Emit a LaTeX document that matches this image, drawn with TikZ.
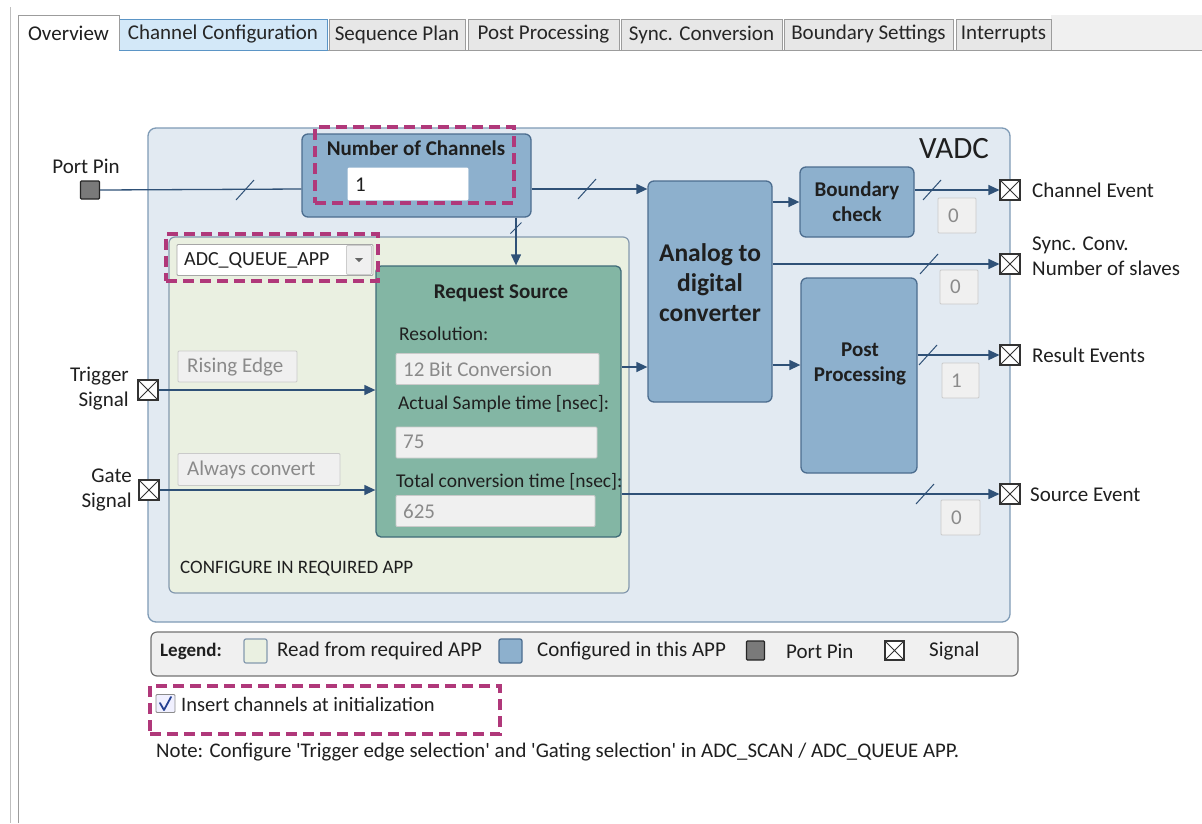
\documentclass[tikz,border=0pt]{standalone}
\usepackage{fontspec}
\setmainfont{Carlito}
\usetikzlibrary{arrows.meta}
\definecolor{vadcbg}{HTML}{E2EAF2}
\definecolor{vadcln}{HTML}{7F9BB6}
\definecolor{cfgbg}{HTML}{8DB0CD}
\definecolor{cfgln}{HTML}{4C6D8F}
\definecolor{appbg}{HTML}{EAF0E1}
\definecolor{appln}{HTML}{8499AE}
\definecolor{srcbg}{HTML}{83B6A4}
\definecolor{srcln}{HTML}{3F6B78}
\definecolor{wirecol}{HTML}{2F5177}
\definecolor{hilite}{HTML}{B0387A}
\definecolor{fieldbg}{HTML}{F0F0F0}
\definecolor{fieldln}{HTML}{CACACA}
\definecolor{fieldtx}{HTML}{8A8A8A}
\definecolor{tabbg}{HTML}{E7E7E7}
\definecolor{tabln}{HTML}{9C9C9C}
\definecolor{tabsel}{HTML}{D3E8F8}
\definecolor{tabselln}{HTML}{5B95C6}
\definecolor{pingray}{HTML}{7A7A7A}
\begin{document}
\begin{tikzpicture}[x=1pt,y=-1pt,
  txt/.style={inner sep=0pt, font=\fontsize{21pt}{25pt}\selectfont, text=black!88},
  small/.style={txt, font=\fontsize{19.5pt}{23pt}\selectfont},
  btitle/.style={txt, font=\fontsize{21pt}{25pt}\selectfont\bfseries},
  tab/.style={draw=tabln, fill=tabbg, inner sep=0pt, font=\fontsize{21pt}{24pt}\selectfont, text=black!85},
  vadcbox/.style={draw=vadcln, fill=vadcbg, line width=1.3pt, rounded corners=8pt, inner sep=0pt},
  appbox/.style={draw=appln, fill=appbg, line width=1.2pt, rounded corners=6pt, inner sep=0pt},
  srcbox/.style={draw=srcln, fill=srcbg, line width=1.3pt, rounded corners=5pt, inner sep=0pt},
  cfgbox/.style={draw=cfgln, fill=cfgbg, line width=1.3pt, rounded corners=6pt, inner sep=0pt},
  field/.style={draw=fieldln, fill=fieldbg, line width=0.9pt, rounded corners=1pt, inner sep=0pt},
  ftxt/.style={inner sep=0pt, anchor=west, text=fieldtx, font=\fontsize{21pt}{24pt}\selectfont},
  sig/.style={draw=black!80, fill=white, line width=1.1pt, minimum size=20pt, inner sep=0pt,
    path picture={\draw[black!80, line width=0.9pt]
      (path picture bounding box.north west) -- (path picture bounding box.south east)
      (path picture bounding box.north east) -- (path picture bounding box.south west);}},
  pin/.style={draw=black!85, fill=pingray, line width=1.1pt, rounded corners=1pt, inner sep=0pt},
  link/.style={draw=wirecol, line width=1.3pt},
  arr/.style={link, -{Triangle[length=11pt,width=10pt]}},
  slash/.style={draw=wirecol, line width=1pt},
  hl/.style={draw=hilite, line width=4pt, dash pattern=on 11pt off 6pt, inner sep=0pt},
]
\useasboundingbox (0,0) rectangle (1202,823);
\fill[white] (0,0) rectangle (1202,823);

% window frame and tab strip
\draw[black!25, line width=1pt] (10,7) -- (10,823);
\fill[fieldbg] (1051,15) rectangle (1202,50);
\draw[tabln, line width=1pt] (119,50) -- (1202,50);
\node[tab, fill=tabsel, draw=tabselln, minimum width=208pt, minimum height=31pt] (tcc) at (223,34.5) {Channel Configuration};
\node[tab, minimum width=136pt, minimum height=31pt] (tsp) at (397,34.5) {Sequence Plan};
\node[tab, minimum width=151pt, minimum height=31pt] (tpp) at (543.5,34.5) {Post Processing};
\node[tab, minimum width=161pt, minimum height=31pt] (tsc) at (701.5,34.5) {Sync. Conversion};
\node[tab, minimum width=169pt, minimum height=31pt] (tbs) at (868.5,34.5) {Boundary Settings};
\node[tab, minimum width=95pt, minimum height=31pt] (tin) at (1003.5,34.5) {Interrupts};
\fill[white] (18,15) rectangle (119,51);
\draw[tabln, line width=1pt] (18,823) -- (18,15) -- (119,15) -- (119,50);
\node[txt, font=\fontsize{21pt}{24pt}\selectfont] (tov) at (68.5,33) {Overview};

% VADC container
\node[vadcbox, minimum width=862pt, minimum height=494pt] (vadc) at (579,375) {};
\node[txt, font=\fontsize{31pt}{33pt}\selectfont] (vadct) at (954,149) {VADC};

% region read from the required APP
\node[appbox, minimum width=460pt, minimum height=356pt] (app) at (399,415) {};
\node[txt, font=\fontsize{19pt}{22pt}\selectfont, anchor=west] (cfgnote) at (180,569) {CONFIGURE IN REQUIRED APP};
\node[field, draw=black!35, fill=white, minimum width=196pt, minimum height=31pt] (dd) at (275,260) {};
\node[ftxt, text=black!88, font=\fontsize{20pt}{24pt}\selectfont] (ddt) at (184,260) {ADC\_QUEUE\_APP};
\node[field, draw=black!20, fill=black!6, minimum width=25pt, minimum height=29pt] (ddb) at (359,260) {};
\fill[black!60] (355,258) -- (363,258) -- (359,262) -- cycle;
\node[field, minimum width=119pt, minimum height=31pt] (fre) at (237.5,366.5) {};
\node[ftxt] at (187,367) {Rising Edge};
\node[field, minimum width=162pt, minimum height=32pt] (fac) at (259,469.5) {};
\node[ftxt] at (187,470) {Always convert};

% request source
\node[srcbox, minimum width=245pt, minimum height=271pt] (rs) at (498.5,401.5) {};
\node[btitle] (rst) at (501,293) {Request Source};
\node[small, anchor=west] (lres) at (399,334) {Resolution:};
\node[field, minimum width=203pt, minimum height=31pt] (fres) at (497.5,369) {};
\node[ftxt] at (403,369) {12 Bit Conversion};
\node[small, anchor=west] (lsmp) at (398,404) {Actual Sample time [nsec]:};
\node[field, minimum width=201pt, minimum height=31pt] (fsmp) at (496.5,442.5) {};
\node[ftxt] at (403,442) {75};
\node[small, anchor=west] (ltot) at (396,482) {Total conversion time [nsec]:};
\node[field, minimum width=199pt, minimum height=31pt] (ftot) at (495.5,511) {};
\node[ftxt] at (403,511) {625};

% number of channels
\node[cfgbox, minimum width=229pt, minimum height=83pt] (noc) at (416.5,175.5) {};
\node[btitle] (noct) at (416,148) {Number of Channels};
\node[field, draw=white, fill=white, minimum width=120pt, minimum height=32pt] (fnoc) at (408,184) {};
\node[ftxt, text=black!88] at (355,185) {1};

% converter blocks
\node[cfgbox, minimum width=124pt, minimum height=221pt] (adc) at (710,291.5) {};
\node[txt, font=\fontsize{25.5pt}{30pt}\selectfont\bfseries, align=center] (adct) at (710,283) {Analog to\\digital\\converter};
\node[cfgbox, minimum width=114pt, minimum height=70pt] (bnd) at (857,202) {};
\node[btitle, align=center] (bndt) at (857,202) {Boundary\\check};
\node[cfgbox, minimum width=116pt, minimum height=195pt] (post) at (859,375.5) {};
\node[btitle, align=center] (postt) at (860,364) {Post\\Processing};

% pins and signals
\node[pin, minimum width=19pt, minimum height=18pt] (pp) at (90,190) {};
\node[txt] (ppl) at (86,166) {Port Pin};
\node[sig] (trig) at (148,390) {};
\node[txt, align=right, anchor=east] (trigl) at (129,389) {Trigger\\Signal};
\node[sig] (gate) at (149,490) {};
\node[txt, align=right, anchor=east] (gatel) at (132,490) {Gate\\Signal};
\node[sig] (chev) at (1010,190) {};
\node[txt, anchor=west] (chevl) at (1032,190) {Channel Event};
\node[sig] (sync) at (1010,264) {};
\node[txt, align=left, anchor=west] (syncl) at (1032,256) {Sync. Conv.\\Number of slaves};
\node[sig] (resev) at (1010,355) {};
\node[txt, anchor=west] (resevl) at (1032,355) {Result Events};
\node[sig] (srcev) at (1010,494) {};
\node[txt, anchor=west] (srcevl) at (1030,495) {Source Event};

% output counters
\node[field, minimum width=38pt, minimum height=35pt] (c1) at (957,215.5) {};
\node[ftxt] at (948,216) {0};
\node[field, minimum width=38pt, minimum height=34pt] (c2) at (959,287) {};
\node[ftxt] at (950,287) {0};
\node[field, minimum width=37pt, minimum height=35pt] (c3) at (960.5,380.5) {};
\node[ftxt] at (951,381) {1};
\node[field, minimum width=39pt, minimum height=35pt] (c4) at (960.5,517.5) {};
\node[ftxt] at (951,518) {0};

% connectors
\coordinate (yPort) at (0,189);
\coordinate (yConv) at (0,367);
\coordinate (yPost) at (0,365);
\coordinate (xDown) at (516,0);
\draw[link] (pp.east) -- (noc.west |- yPort);
\draw[arr] (noc.east |- yPort) -- (adc.west |- yPort);
\draw[arr] (noc.south -| xDown) -- (rs.north -| xDown);
\draw[arr] (trig.east) -- (rs.west |- trig.east);
\draw[arr] (gate.east) -- (rs.west |- gate.east);
\draw[arr] (rs.east |- yConv) -- (adc.west |- yConv);
\draw[arr] (rs.east |- srcev.west) -- (srcev.west);
\draw[arr] (adc.east |- bnd.west) -- (bnd.west);
\draw[arr] (adc.east |- sync.west) -- (sync.west);
\draw[arr] (adc.east |- yPost) -- (post.west |- yPost);
\draw[arr] (bnd.east |- chev.west) -- (chev.west);
\draw[arr] (post.east |- resev.west) -- (resev.west);

% bus width marks
\foreach \cx/\cy in {245/190, 587/189, 932/190, 929/264, 928/355, 925/494}
  \draw[slash] (\cx-9,\cy+10) -- (\cx+9,\cy-10);
\draw[slash] (510.5,233.5) -- (521.5,222.5);

% legend
\node[field, draw=black!55, fill=fieldbg, line width=1.2pt, rounded corners=6pt, minimum width=867pt, minimum height=44pt] (leg) at (584.5,654) {};
\node[txt, font=\fontsize{19pt}{22pt}\selectfont\bfseries, anchor=west] (legt) at (160,651) {Legend:};
\node[appbox, rounded corners=2pt, minimum width=23pt, minimum height=24pt] (lg1) at (255.5,651) {};
\node[txt, anchor=west] at (277,651) {Read from required APP};
\node[cfgbox, rounded corners=2pt, minimum width=23pt, minimum height=24pt] (lg2) at (510.5,651) {};
\node[txt, anchor=west] at (537,651) {Configured in this APP};
\node[pin, minimum width=18pt, minimum height=19pt] (lg3) at (755.5,650.5) {};
\node[txt, anchor=west] at (786,651) {Port Pin};
\node[sig, minimum size=19pt] (lg4) at (894.5,650.5) {};
\node[txt, anchor=west] at (929,651) {Signal};

% option and note
\node[field, draw=black!45, fill=blue!6, minimum width=19pt, minimum height=18pt] (chk) at (165.5,703.5) {};
\draw[wirecol!80!blue, line width=1.8pt, line cap=round, line join=round] (160,703) -- (164,710) -- (171,697);
\node[txt, font=\fontsize{20.5pt}{24pt}\selectfont, anchor=west] (chkl) at (181,704) {Insert channels at initialization};
\node[txt, font=\fontsize{20.8pt}{24pt}\selectfont, anchor=west] (note) at (156,752) {Note: Configure \textquotesingle Trigger edge selection\textquotesingle\ and \textquotesingle Gating selection\textquotesingle\ in ADC\_SCAN / ADC\_QUEUE APP.};

% highlighted settings
\node[hl, minimum width=199pt, minimum height=76pt] (hl1) at (414.5,165) {};
\node[hl, minimum width=212pt, minimum height=47pt] (hl2) at (272,257) {};
\node[hl, minimum width=350pt, minimum height=48pt] (hl3) at (325,710) {};
\end{tikzpicture}
\end{document}
